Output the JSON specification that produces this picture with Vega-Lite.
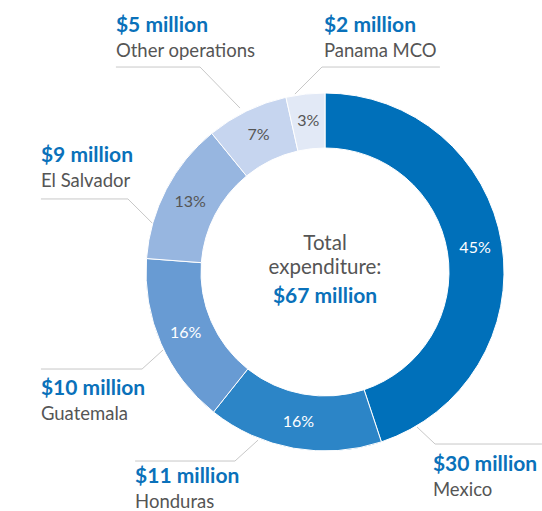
{
  "$schema": "https://vega.github.io/schema/vega-lite/v6.json",
  "width": 434,
  "height": 478,
  "autosize": {"type": "none"},
  "padding": {"left": 108, "top": 33, "right": 0, "bottom": 0},
  "background": "white",
  "config": {"view": {"stroke": null}, "font": "Lato"},
  "datasets": {
    "slices": [
      {"name": "Mexico", "pct": 44.9, "label": "45%"},
      {"name": "Honduras", "pct": 15.8, "label": "16%"},
      {"name": "Guatemala", "pct": 15.5, "label": "16%"},
      {"name": "El Salvador", "pct": 12.9, "label": "13%"},
      {"name": "Other operations", "pct": 7.4, "label": "7%"},
      {"name": "Panama MCO", "pct": 3.5, "label": "3%"}
    ],
    "labels": [
      {"name": "Panama MCO", "amount": "$2 million", "ax": -0.006, "ay": 1.341},
      {"name": "Other operations", "amount": "$5 million", "ax": -1.168, "ay": 1.341},
      {"name": "El Salvador", "amount": "$9 million", "ax": -1.587, "ay": 0.615},
      {"name": "Guatemala", "amount": "$10 million", "ax": -1.587, "ay": -0.687},
      {"name": "Honduras", "amount": "$11 million", "ax": -1.061, "ay": -1.178},
      {"name": "Mexico", "amount": "$30 million", "ax": 0.603, "ay": -1.112}
    ],
    "leaders": [
      {"name": "Panama MCO", "seq": 1, "lx": 0.642, "ly": 1.145},
      {"name": "Panama MCO", "seq": 2, "lx": -0.017, "ly": 1.145},
      {"name": "Panama MCO", "seq": 3, "lx": -0.168, "ly": 0.994},
      {"name": "Other operations", "seq": 1, "lx": -1.168, "ly": 1.145},
      {"name": "Other operations", "seq": 2, "lx": -0.698, "ly": 1.145},
      {"name": "Other operations", "seq": 3, "lx": -0.475, "ly": 0.916},
      {"name": "El Salvador", "seq": 1, "lx": -1.587, "ly": 0.408},
      {"name": "El Salvador", "seq": 2, "lx": -1.101, "ly": 0.408},
      {"name": "El Salvador", "seq": 3, "lx": -0.966, "ly": 0.274},
      {"name": "Guatemala", "seq": 1, "lx": -1.587, "ly": -0.542},
      {"name": "Guatemala", "seq": 2, "lx": -1.022, "ly": -0.542},
      {"name": "Guatemala", "seq": 3, "lx": -0.905, "ly": -0.436},
      {"name": "Honduras", "seq": 1, "lx": -1.061, "ly": -1.056},
      {"name": "Honduras", "seq": 2, "lx": -0.503, "ly": -1.056},
      {"name": "Honduras", "seq": 3, "lx": -0.374, "ly": -0.939},
      {"name": "Mexico", "seq": 1, "lx": 1.212, "ly": -0.961},
      {"name": "Mexico", "seq": 2, "lx": 0.615, "ly": -0.961},
      {"name": "Mexico", "seq": 3, "lx": 0.514, "ly": -0.866}
    ]
  },
  "layer": [
    {
      "data": {"name": "slices"},
      "mark": {"type": "arc", "outerRadius": 179, "innerRadius": 124, "stroke": "white", "strokeWidth": 1},
      "encoding": {
        "theta": {"field": "pct", "type": "quantitative", "stack": true},
        "order": {"field": "pct", "sort": "descending"},
        "color": {
          "field": "name",
          "type": "nominal",
          "legend": null,
          "scale": {
            "domain": ["Mexico", "Honduras", "Guatemala", "El Salvador", "Other operations", "Panama MCO"],
            "range": ["#0070BA", "#2C85C7", "#689BD3", "#97B6E0", "#C6D5EF", "#E2E9F6"]
          }
        }
      }
    },
    {
      "data": {"name": "slices"},
      "mark": {"type": "text", "radius": 152, "fontSize": 16, "align": "center", "baseline": "middle"},
      "encoding": {
        "theta": {"field": "pct", "type": "quantitative", "stack": true},
        "order": {"field": "pct", "sort": "descending"},
        "text": {"field": "label"},
        "color": {"condition": {"test": "datum.pct > 15", "value": "white"}, "value": "#555555"}
      }
    },
    {
      "data": {"name": "leaders"},
      "mark": {"type": "line", "stroke": "#c8c8c8", "strokeWidth": 1, "clip": false},
      "encoding": {
        "x": {"field": "lx", "type": "quantitative", "axis": null, "scale": {"domain": [-1.2123, 1.2123], "nice": false, "zero": false}},
        "y": {"field": "ly", "type": "quantitative", "axis": null, "scale": {"domain": [-1.3352, 1.3352], "nice": false, "zero": false}},
        "detail": {"field": "name"},
        "order": {"field": "seq"}
      }
    },
    {
      "data": {"name": "labels"},
      "mark": {"type": "text", "align": "left", "baseline": "alphabetic", "fontSize": 21, "fontWeight": "bold", "color": "#0A71BA", "clip": false},
      "encoding": {
        "x": {"field": "ax", "type": "quantitative"},
        "y": {"field": "ay", "type": "quantitative"},
        "text": {"field": "amount"}
      }
    },
    {
      "data": {"name": "labels"},
      "mark": {"type": "text", "align": "left", "baseline": "alphabetic", "fontSize": 18.5, "color": "#555555", "dy": 25, "clip": false},
      "encoding": {
        "x": {"field": "ax", "type": "quantitative"},
        "y": {"field": "ay", "type": "quantitative"},
        "text": {"field": "name"}
      }
    },
    {
      "data": {"values": [{}]},
      "mark": {"type": "text", "text": "Total", "align": "center", "baseline": "alphabetic", "fontSize": 20.5, "color": "#555555", "dy": -22},
      "encoding": {}
    },
    {
      "data": {"values": [{}]},
      "mark": {"type": "text", "text": "expenditure:", "align": "center", "baseline": "alphabetic", "fontSize": 20.5, "color": "#555555", "dy": 2},
      "encoding": {}
    },
    {
      "data": {"values": [{}]},
      "mark": {"type": "text", "text": "$67 million", "align": "center", "baseline": "alphabetic", "fontSize": 21, "fontWeight": "bold", "color": "#0A71BA", "dy": 31},
      "encoding": {}
    }
  ]
}
